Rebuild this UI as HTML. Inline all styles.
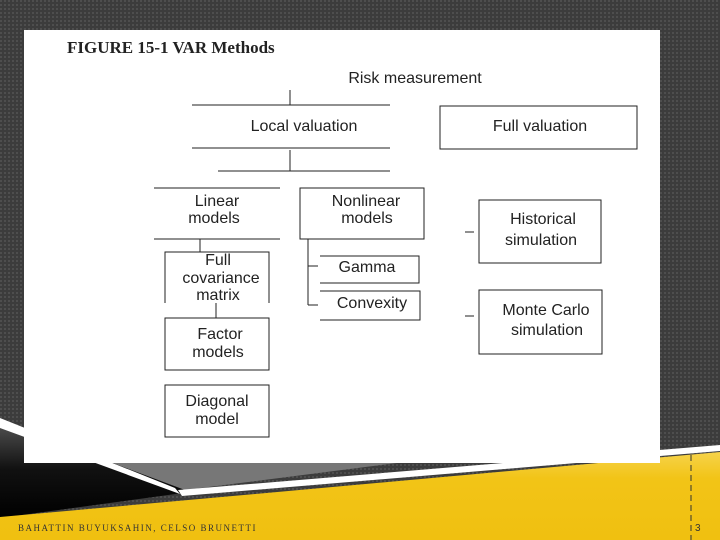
<html><body style="margin:0;width:720px;height:540px;overflow:hidden;background:#3b3b3b">
<svg width="720" height="540" style="position:absolute;left:0;top:0;font-family:'Liberation Sans',sans-serif">
<defs><pattern id="d" width="4" height="4" patternUnits="userSpaceOnUse"><rect width="4" height="4" fill="#3c3c3c"/><rect width="2" height="2" fill="#4e4e4e"/></pattern>
<linearGradient id="y" x1="0" y1="0" x2="0" y2="1"><stop offset="0" stop-color="#f6d34a"/><stop offset="0.3" stop-color="#f2c417"/><stop offset="1" stop-color="#f0c010"/></linearGradient>
<linearGradient id="b" x1="0" y1="0" x2="0" y2="1"><stop offset="0" stop-color="#555"/><stop offset="0.5" stop-color="#111"/><stop offset="1" stop-color="#000"/></linearGradient></defs>
<rect width="720" height="540" fill="url(#d)"/>
<polygon points="0,420 160,470 190,492 0,518" fill="url(#b)"/>
<polygon points="0,418 175,488 180,494 0,428" fill="#fff"/>
<polygon points="110,462 405,462 185,490" fill="#777"/>
<polygon points="178,490 720,445 720,451 182,496" fill="#fff"/>
<polygon points="0,517 720,452 720,540 0,540" fill="url(#y)"/>
<rect x="24" y="30" width="636" height="433" fill="#fff"/>
<line x1="691" y1="455" x2="691" y2="540" stroke="#333" stroke-dasharray="6,4"/>
<text x="18" y="531" font-size="9" letter-spacing="1.5" fill="#333" font-family="Liberation Serif,serif">BAHATTIN BUYUKSAHIN, CELSO BRUNETTI</text>
<text x="695" y="531" font-size="10" fill="#333">3</text>
<g fill="none" stroke="#222" stroke-width="1">
<line x1="192" y1="105" x2="390" y2="105"/><line x1="290" y1="90" x2="290" y2="105"/>
<line x1="192" y1="148" x2="390" y2="148"/>
<rect x="440" y="106" width="197" height="43"/>
<line x1="218" y1="171" x2="390" y2="171"/><line x1="290" y1="150" x2="290" y2="171"/>
<line x1="154" y1="188" x2="280" y2="188"/><line x1="154" y1="239" x2="280" y2="239"/>
<rect x="300" y="188" width="124" height="51"/>
<line x1="200" y1="239" x2="200" y2="252"/>
<path d="M165,303 V252 H269 V303"/>
<line x1="216" y1="303" x2="216" y2="318"/>
<rect x="165" y="318" width="104" height="52"/>
<rect x="165" y="385" width="104" height="52"/>
<line x1="308" y1="239" x2="308" y2="305"/><line x1="308" y1="266" x2="318" y2="266"/><line x1="308" y1="305" x2="318" y2="305"/>
<path d="M320,256 H419 V283 H320"/><path d="M320,291 H420 V320 H320"/>
<rect x="479" y="200" width="122" height="63"/><rect x="479" y="290" width="123" height="64"/>
<line x1="465" y1="232" x2="474" y2="232"/><line x1="465" y1="316" x2="474" y2="316"/>
</g>
<text x="67" y="53" font-size="17" font-weight="bold" font-family="Liberation Serif,serif" fill="#222">FIGURE 15-1 VAR Methods</text>
<g font-size="16" fill="#222" text-anchor="middle">
<text x="415" y="83">Risk measurement</text>
<text x="304" y="131">Local valuation</text>
<text x="540" y="131">Full valuation</text>
<text x="217" y="206">Linear</text><text x="214" y="223">models</text>
<text x="366" y="206">Nonlinear</text><text x="367" y="223">models</text>
<text x="218" y="265">Full</text><text x="221" y="283">covariance</text><text x="218" y="300">matrix</text>
<text x="220" y="339">Factor</text><text x="218" y="357">models</text>
<text x="217" y="406">Diagonal</text><text x="217" y="424">model</text>
<text x="367" y="272">Gamma</text><text x="372" y="308">Convexity</text>
<text x="543" y="224">Historical</text><text x="541" y="245">simulation</text>
<text x="546" y="315">Monte Carlo</text><text x="547" y="335">simulation</text>
</g>
</svg></body></html>
